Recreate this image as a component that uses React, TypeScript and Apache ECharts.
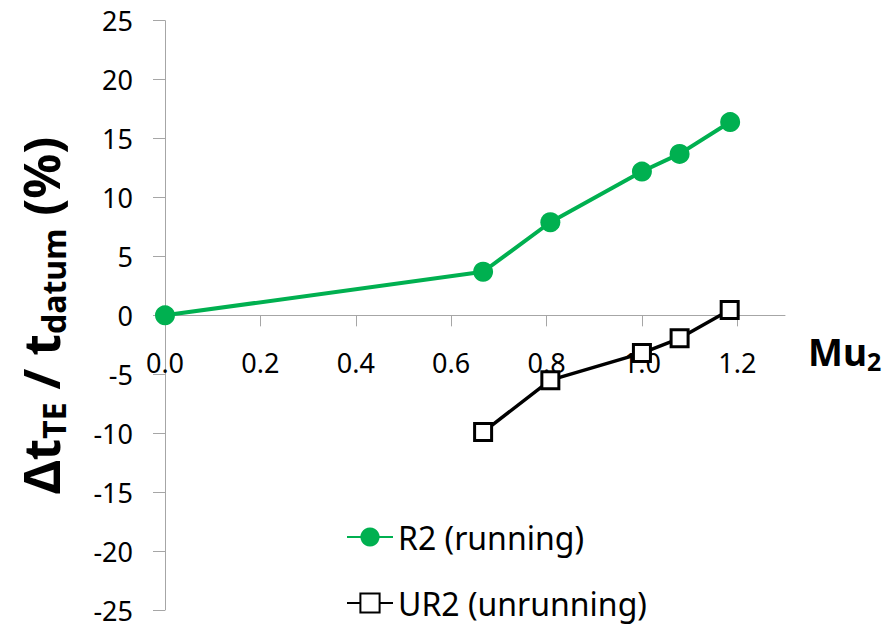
import React, { useEffect, useRef } from "react";
import * as echarts from "echarts";

const FONT = "'Noto Sans', 'Open Sans', sans-serif";

const mu = [0, 0.667, 0.808, 1.0, 1.079, 1.185];
const muUR = [0.667, 0.808, 1.0, 1.079, 1.184];
const r2Values = [0, 3.7, 7.9, 12.2, 13.7, 16.4];
const ur2Values = [-9.9, -5.5, -3.2, -1.95, 0.45];
const xTicks = [0, 0.2, 0.4, 0.6, 0.8, 1.0, 1.2];
const seriesNames = ["R2 (running)", "UR2 (unrunning)"];

const GRID_TOP = 20.7;
const GRID_BOTTOM = 14;
const H = 624;

export default function App() {
  const ref = useRef<HTMLDivElement>(null);
  useEffect(() => {
    if (!ref.current) return;
    const chart = echarts.init(ref.current, undefined, { renderer: "svg" });
    const axisColor = "#a6a6a6";
    const plotH = H - GRID_TOP - GRID_BOTTOM;
    const zeroOffset = -(plotH / 2);
    const legendCommon = {
      orient: "vertical",
      left: 341,
      itemWidth: 46,
      itemHeight: 24,
      textStyle: { fontSize: 32, color: "#000", fontFamily: FONT, lineHeight: 32 },
    };
    chart.setOption({
      animation: false,
      backgroundColor: "#ffffff",
      grid: {
        left: 165,
        right: 107,
        top: GRID_TOP,
        bottom: GRID_BOTTOM,
        containLabel: false,
        outerBoundsMode: "none",
      },
      legend: [
        { ...legendCommon, top: 516, data: [seriesNames[0]] },
        { ...legendCommon, top: 582, data: [seriesNames[1]] },
      ],
      xAxis: {
        type: "value",
        min: 0,
        max: 1.3,
        interval: 0.2,
        position: "bottom",
        offset: zeroOffset,
        name: "{m|Mu}{s|2}",
        nameLocation: "end",
        nameGap: 23,
        nameTextStyle: {
          padding: [72, 0, 0, 0],
          rich: {
            m: { fontSize: 37, fontWeight: "bold", fontFamily: FONT, color: "#000", lineHeight: 44 },
            s: { fontSize: 25, fontWeight: "bold", fontFamily: FONT, color: "#000", lineHeight: 16, verticalAlign: "bottom" },
          },
        },
        axisLine: { onZero: false, lineStyle: { color: axisColor, width: 1 } },
        axisTick: { show: true, length: 11, customValues: xTicks, lineStyle: { color: axisColor } },
        axisLabel: {
          customValues: xTicks,
          margin: 34,
          fontSize: 27,
          color: "#000",
          fontFamily: FONT,
          formatter: (v: number) => v.toFixed(1),
        },
        splitLine: { show: false },
      },
      yAxis: {
        type: "value",
        min: -25,
        max: 25,
        interval: 5,
        name: "{m|Δt}{s|TE}{m| / t}{s|datum}{m| (%)}",
        nameLocation: "middle",
        nameRotate: 90,
        nameGap: 96,
        nameTextStyle: {
          rich: {
            m: { fontSize: 50, fontWeight: "bold", fontFamily: FONT, color: "#000", lineHeight: 56 },
            s: { fontSize: 32, fontWeight: "bold", fontFamily: FONT, color: "#000", lineHeight: 34, verticalAlign: "bottom" },
          },
        },
        axisLine: { show: true, onZero: false, lineStyle: { color: axisColor, width: 1 } },
        axisTick: { show: true, length: 12, lineStyle: { color: axisColor } },
        axisLabel: { margin: 32, fontSize: 27, lineHeight: 22, color: "#000", fontFamily: FONT },
        splitLine: { show: false },
      },
      series: [
        {
          name: seriesNames[0],
          type: "line",
          data: mu.map((x, i) => [x, r2Values[i]]),
          symbol: "circle",
          symbolSize: 20,
          itemStyle: { color: "#00b050" },
          lineStyle: { color: "#00b050", width: 4 },
          z: 3,
        },
        {
          name: seriesNames[1],
          type: "line",
          data: muUR.map((x, i) => [x, ur2Values[i]]),
          symbol: "rect",
          symbolSize: 17,
          itemStyle: { color: "#ffffff", borderColor: "#000000", borderWidth: 3 },
          lineStyle: { color: "#000000", width: 3.5 },
          z: 2,
        },
      ],
    });
    return () => chart.dispose();
  }, []);
  return (
    <div
      ref={ref}
      style={{ position: "absolute", left: 0, top: 0, width: 892, height: 624 }}
    />
  );
}
